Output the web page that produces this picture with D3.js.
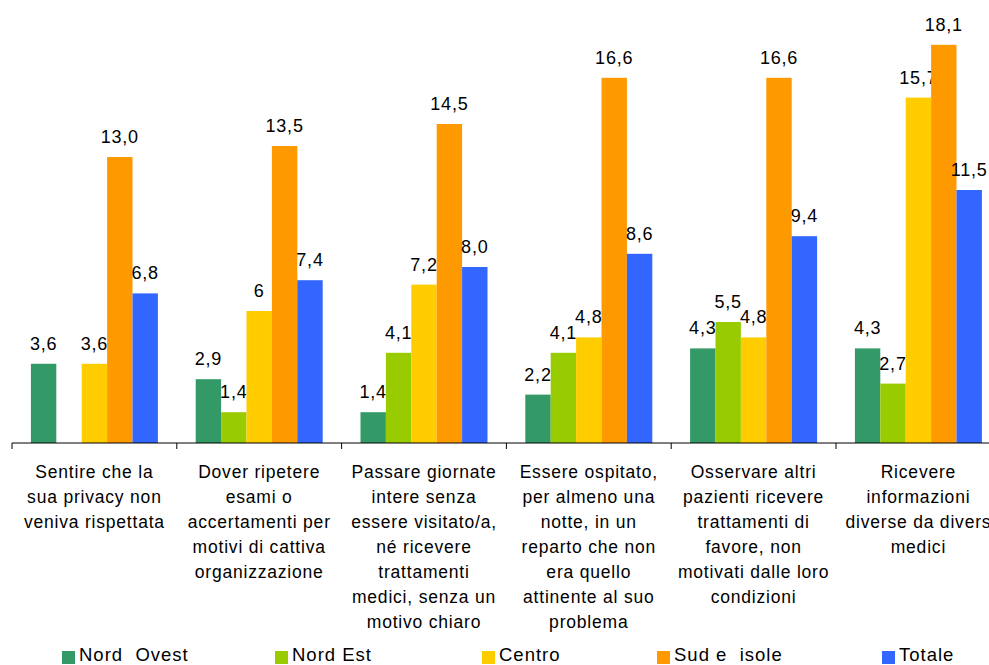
<!DOCTYPE html>
<html>
<head>
<meta charset="utf-8">
<script src="https://cdn.jsdelivr.net/npm/d3@7"></script>
<style>
    body { margin: 0; background: #fff; }
    text { font-family: "Liberation Sans", Arial, sans-serif; fill: #000; }
</style>
</head>
<body>
<script>
// categories (line breaks as in the original chart)
var categories = [
    ["Sentire che la", "sua privacy non", "veniva rispettata"],
    ["Dover ripetere", "esami o", "accertamenti per", "motivi di cattiva", "organizzazione"],
    ["Passare giornate", "intere senza", "essere visitato/a,", "né ricevere", "trattamenti", "medici, senza un", "motivo chiaro"],
    ["Essere ospitato,", "per almeno una", "notte, in un", "reparto che non", "era quello", "attinente al suo", "problema"],
    ["Osservare altri", "pazienti ricevere", "trattamenti di", "favore, non", "motivati dalle loro", "condizioni"],
    ["Ricevere", "informazioni", "diverse da divers", "medici"]
];

var seriesNames = ["Nord  Ovest", "Nord Est", "Centro", "Sud e  isole", "Totale"];
var seriesColors = ["#339966", "#99cc00", "#ffcc00", "#ff9900", "#3366ff"];

var nordOvest = [3.6, 2.9, 1.4, 2.2, 4.3, 4.3];
var nordEst   = [null, 1.4, 4.1, 4.1, 5.5, 2.7];
var centro    = [3.6, 6, 7.2, 4.8, 4.8, 15.7];
var sudIsole  = [13.0, 13.5, 14.5, 16.6, 16.6, 18.1];
var totale    = [6.8, 7.4, 8.0, 8.6, 9.4, 11.5];

// labels exactly as printed
var labelText = [
    ["3,6", "2,9", "1,4", "2,2", "4,3", "4,3"],
    ["", "1,4", "4,1", "4,1", "5,5", "2,7"],
    ["3,6", "6", "7,2", "4,8", "4,8", "15,7"],
    ["13,0", "13,5", "14,5", "16,6", "16,6", "18,1"],
    ["6,8", "7,4", "8,0", "8,6", "9,4", "11,5"]
];

var series = [nordOvest, nordEst, centro, sudIsole, totale];

var width = 989, height = 665;
var svg = d3.select("body").append("svg")
    .attr("width", width)
    .attr("height", height);

var x0 = d3.scaleBand()
    .domain(d3.range(categories.length))
    .range([12, 12 + 164.8 * categories.length])
    .paddingInner(0)
    .paddingOuter(0);

var x1 = d3.scaleBand()
    .domain(d3.range(series.length))
    .range([0, x0.bandwidth()])
    .paddingOuter(0.744);

var y = d3.scaleLinear()
    .domain([0, 20])
    .range([443, 3]);

// bars
series.forEach(function (vals, s) {
    var pts = vals.map(function (v, i) { return { v: v, i: i, label: labelText[s][i] }; })
        .filter(function (d) { return d.v != null; });
    var g = svg.append("g");
    g.selectAll("rect")
        .data(pts)
        .enter().append("rect")
        .attr("x", function (d) { return x0(d.i) + x1(s); })
        .attr("y", function (d) { return y(d.v); })
        .attr("width", x1.bandwidth())
        .attr("height", function (d) { return y(0) - y(d.v); })
        .attr("fill", seriesColors[s]);

    g.selectAll("text")
        .data(pts)
        .enter().append("text")
        .attr("x", function (d) { return x0(d.i) + x1(s) + x1.bandwidth() / 2; })
        .attr("y", function (d) { return y(d.v) - 14; })
        .attr("text-anchor", "middle")
        .style("font-size", "18px")
        .style("letter-spacing", "0.8px")
        .text(function (d) { return d.label; });
});

// axis line with ticks between categories
svg.append("line")
    .attr("x1", x0.range()[0]).attr("x2", x0.range()[1])
    .attr("y1", y(0)).attr("y2", y(0))
    .attr("stroke", "#000").attr("stroke-width", 1);

svg.selectAll("line.tick")
    .data(d3.range(categories.length + 1))
    .enter().append("line")
    .attr("class", "tick")
    .attr("x1", function (d) { return x0.range()[0] + d * x0.step(); })
    .attr("x2", function (d) { return x0.range()[0] + d * x0.step(); })
    .attr("y1", y(0)).attr("y2", y(0) + 6)
    .attr("stroke", "#000");

// category labels
categories.forEach(function (lines, i) {
    var t = svg.append("text")
        .attr("text-anchor", "middle")
        .style("font-size", "17.5px")
        .style("letter-spacing", "0.8px");
    lines.forEach(function (ln, k) {
        t.append("tspan")
            .attr("x", x0(i) + x0.bandwidth() / 2)
            .attr("y", 478 + k * 25)
            .text(ln);
    });
});

// legend
var legendX = [62, 275, 482, 657, 882];
var legend = svg.selectAll("g.legend")
    .data(seriesNames)
    .enter().append("g")
    .attr("class", "legend")
    .attr("transform", function (d, i) { return "translate(" + legendX[i] + ",0)"; });

legend.append("rect")
    .attr("x", 0).attr("y", 651)
    .attr("width", 13).attr("height", 13)
    .attr("fill", function (d, i) { return seriesColors[i]; });

legend.append("text")
    .attr("x", 17).attr("y", 661)
    .style("font-size", "18.5px")
    .style("letter-spacing", "1px")
    .style("white-space", "pre")
    .attr("xml:space", "preserve")
    .text(function (d) { return d; });
</script>
</body>
</html>
